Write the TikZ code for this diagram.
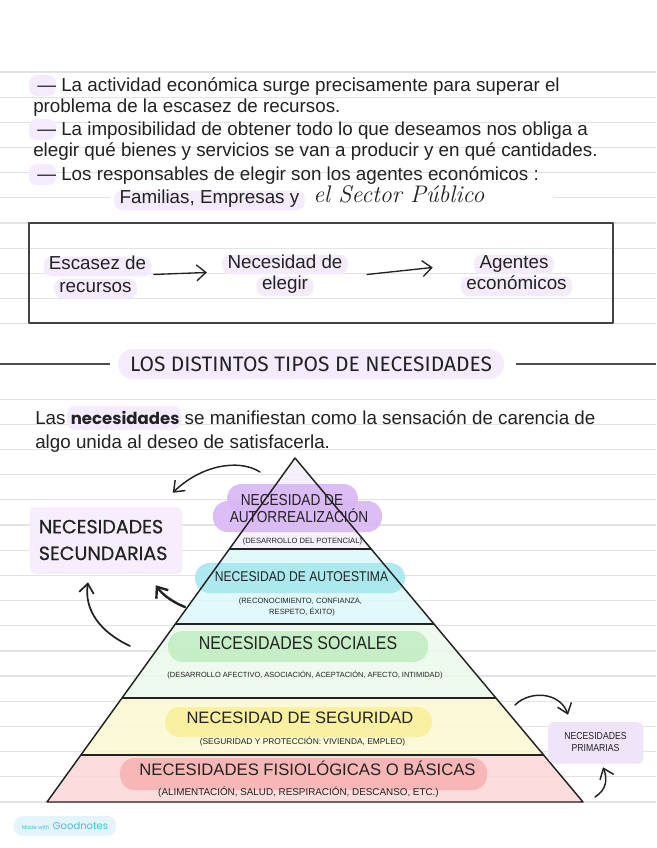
\documentclass[tikz,border=0pt]{standalone}
\usepackage{fontspec}
\usetikzlibrary{positioning,calc,arrows.meta,shadows}

\newfontfamily\bodyfont{Liberation Sans}
\newfontfamily\narrowfont[FakeStretch=0.86]{Liberation Sans}
\newfontfamily\headfont{Fira Sans}
\newfontfamily\geofont{Poppins}
\newfontfamily\geomed[FakeBold=0.7]{Poppins}

\definecolor{ruleg}{HTML}{E3E3E3}
\definecolor{hl}{HTML}{F4ECFC}
\definecolor{ink}{HTML}{222222}
\definecolor{lay1}{HTML}{F5EEFC}
\definecolor{tag1}{HTML}{D9B6F4}
\definecolor{lay2}{HTML}{DDF9FC}
\definecolor{tag2}{HTML}{A6E8EE}
\definecolor{lay3}{HTML}{ECFAEC}
\definecolor{tag3}{HTML}{C2EEC3}
\definecolor{lay4}{HTML}{FCF8D2}
\definecolor{tag4}{HTML}{FAF09C}
\definecolor{lay5}{HTML}{FCD7D7}
\definecolor{tag5}{HTML}{F7B3B3}
\definecolor{secfill}{HTML}{F7EEFD}
\definecolor{primfill}{HTML}{F0E4FB}
\definecolor{gnfill}{HTML}{E3F5FA}
\definecolor{gntext}{HTML}{45BFD8}

\begin{document}
\begin{tikzpicture}[
  x=0.75pt, y=-0.75pt,
  line join=round,
  rule/.style={ruleg, line width=0.9pt},
  body/.style={font=\bodyfont\fontsize{14.1}{17}\selectfont, text=ink, inner sep=0pt},
  hlbox/.style={body, fill=hl, rounded corners=6pt, inner xsep=4pt, inner ysep=2.5pt,
                text height=0.75em, text depth=0.22em},
  headtxt/.style={font=\headfont\fontsize{15.7}{18}\selectfont, text=ink, fill=hl,
                  rounded corners=11pt, minimum height=22.5pt, inner xsep=9pt},
  frame/.style={draw=ink!85, line width=1.1pt},
  edge/.style={draw=ink, line width=1.1pt},
  tagfill/.style={rounded corners=11pt, fill opacity=0.9},
  pyr/.style={font=\narrowfont, text=ink, inner sep=0pt, anchor=base},
  pyrn/.style={font=\bodyfont, text=ink, inner sep=0pt, anchor=base},
  small/.style={pyrn},
  catbox/.style={fill=secfill, rounded corners=4pt, text=ink,
                 drop shadow={shadow xshift=0.5pt, shadow yshift=-0.7pt, opacity=0.12}},
  flowarr/.style={-{Straight Barb[length=7pt,width=12pt]}, line width=1pt, ink, line cap=round},
  curvarr/.style={-{Straight Barb[length=7pt,width=11pt]}, line width=1.1pt, ink, line cap=round},
  gnbadge/.style={fill=gnfill, rounded corners=7pt, text=gntext, minimum height=15pt,
                  inner xsep=6pt, font=\geofont}
]
\useasboundingbox (0,0) rectangle (656,848);
\fill[white] (0,0) rectangle (656,848);

% ruled paper
\foreach \k in {0,...,4,6,7,8,9,10,13,14,...,29}
  \draw[rule] (0,{72+25.17*\k}) -- (656,{72+25.17*\k});
\draw[rule] (0,197.9) -- (110,197.9) (553,197.9) -- (656,197.9);

% ---------------- intro text ----------------
\foreach \yb in {92,136,181}
  \fill[hl, rounded corners=6pt] (29,{\yb-17}) rectangle (56,{\yb+4});
\node[body, anchor=base west] (l1) at (37,92) {— La actividad económica surge precisamente para superar el};
\node[body, anchor=base west] (l2) at (33,113) {problema de la escasez de recursos.};
\node[body, anchor=base west] (l3) at (37,136) {— La imposibilidad de obtener todo lo que deseamos nos obliga a};
\node[body, anchor=base west] (l4) at (33,157) {elegir qué bienes y servicios se van a producir y en qué cantidades.};
\node[body, anchor=base west] (l5) at (37,181) {— Los responsables de elegir son los agentes económicos :};
\node[hlbox, anchor=base west] (familias) at (114,204) {Familias, Empresas y};
\node[anchor=base west, inner sep=0pt, text=ink,
      font=\rmfamily\itshape\fontsize{18}{20}\selectfont\addfontfeature{LetterSpace=9}]
  (sector) at (313,203) {el Sector Público};

% ---------------- flow box ----------------
\draw[frame] (29,223) rectangle (613,323);
\node[hlbox, anchor=base] (esc1) at (97.5,270) {Escasez de};
\node[hlbox, anchor=base] (esc2) at (95.5,292) {recursos};
\node[hlbox, anchor=base] (nec1) at (285,268) {Necesidad de};
\node[hlbox, anchor=base] (nec2) at (285,290) {elegir};
\node[hlbox, anchor=base] (age1) at (514,268) {Agentes};
\node[hlbox, anchor=base] (age2) at (516.5,290) {económicos};
\draw[flowarr] ($(esc1.east)+(2,8)$) -- ($(nec1.west)+(-15,8)$);
\draw[flowarr] ($(nec1.east)+(19,10)$) -- ($(age2.west)+(-28,-19)$);

% ---------------- heading ----------------
\node[headtxt] (heading) at (311,364) {LOS DISTINTOS TIPOS DE NECESIDADES};
\coordinate (hleft) at (0,364);
\coordinate (hright) at (656,364);
\draw[ink!80, line width=1.1pt] (hleft) -- ([xshift=-6pt]heading.west);
\draw[ink!80, line width=1.1pt] ([xshift=9pt]heading.east) -- (hright);

\fill[hl, rounded corners=6pt] (67,406) rectangle (181,430);
\node[body, anchor=base west] (para1) at (35,424)
  {Las {\geofont\bfseries\fontsize{12.4}{17}\selectfont necesidades} se manifiestan como la sensación de carencia de};
\node[body, anchor=base west] (para2) at (35,448) {algo unida al deseo de satisfacerla.};

% ---------------- pyramid ----------------
\coordinate (apex) at (295,458);
\coordinate (bl) at (47,802);
\coordinate (br) at (583,802);
\foreach \t [count=\i] in {0.2645,0.4826,0.6977,0.8634} {
  \coordinate (L\i) at ($(apex)!\t!(bl)$);
  \coordinate (R\i) at ($(apex)!\t!(br)$);
}
\fill[lay1, fill opacity=0.85] (apex) -- (L1) -- (R1) -- cycle;
\fill[lay2, fill opacity=0.85] (L1) -- (L2) -- (R2) -- (R1) -- cycle;
\fill[lay3, fill opacity=0.85] (L2) -- (L3) -- (R3) -- (R2) -- cycle;
\fill[lay4, fill opacity=0.85] (L3) -- (L4) -- (R4) -- (R3) -- cycle;
\fill[lay5, fill opacity=0.85] (L4) -- (bl) -- (br) -- (R4) -- cycle;

\fill[tag1, tagfill] (227,484) rectangle (358,512);
\fill[tag1, tagfill] (213,501) rectangle (382,532);
\fill[tag2, tagfill] (195,563) rectangle (405,593);
\fill[tag3, tagfill] (168,631) rectangle (428,662);
\fill[tag4, tagfill] (165,707) rectangle (432,737);
\fill[tag5, tagfill] (120,758) rectangle (487,790);

\draw[edge] (apex) -- (bl) -- (br) -- cycle;
\foreach \i in {1,...,4}
  \draw[edge] (L\i) -- (R\i);

\node[pyr, font=\narrowfont\fontsize{11.9}{14}\selectfont] (autorr1) at (292,505) {NECESIDAD DE};
\node[pyr, font=\narrowfont\fontsize{11.9}{14}\selectfont] (autorr2) at (299,522) {AUTORREALIZACIÓN};
\node[small, font=\bodyfont\fontsize{5.7}{7}\selectfont] (autorr3) at (302.5,543) {(DESARROLLO DEL POTENCIAL)};

\node[pyr, font=\narrowfont\fontsize{10.6}{13}\selectfont] (estima1) at (301.5,581) {NECESIDAD DE AUTOESTIMA};
\node[small, font=\bodyfont\fontsize{5.7}{7}\selectfont] (estima2) at (300.5,603) {(RECONOCIMIENTO, CONFIANZA,};
\node[small, font=\bodyfont\fontsize{5.7}{7}\selectfont] (estima3) at (302,614) {RESPETO, ÉXITO)};

\node[pyr, font=\narrowfont\fontsize{13.9}{16}\selectfont] (social1) at (298,649) {NECESIDADES SOCIALES};
\node[small, font=\bodyfont\fontsize{5.6}{7}\selectfont] (social2) at (305,677)
  {(DESARROLLO AFECTIVO, ASOCIACIÓN, ACEPTACIÓN, AFECTO, INTIMIDAD)};

\node[pyrn, font=\bodyfont\fontsize{12.4}{15}\selectfont] (segur1) at (300,723) {NECESIDAD DE SEGURIDAD};
\node[small, font=\bodyfont\fontsize{6.3}{8}\selectfont] (segur2) at (302.5,744)
  {(SEGURIDAD Y PROTECCIÓN: VIVIENDA, EMPLEO)};

\node[pyrn, font=\bodyfont\fontsize{12.5}{15}\selectfont] (fisio1) at (307.5,775) {NECESIDADES FISIOLÓGICAS O BÁSICAS};
\node[small, font=\bodyfont\fontsize{7.4}{9}\selectfont] (fisio2) at (298.5,795)
  {(ALIMENTACIÓN, SALUD, RESPIRACIÓN, DESCANSO, ETC.)};

% ---------------- category boxes ----------------
\node[catbox, text width=100pt, align=left, inner xsep=7pt, minimum height=49.5pt,
      font=\geomed\fontsize{14.3}{20}\selectfont] (secund) at (105.5,540) {NECESIDADES\\SECUNDARIAS};
\node[catbox, fill=primfill, minimum width=71pt, minimum height=30.75pt, align=center,
      font=\narrowfont\fontsize{7.6}{9}\selectfont] (prim) at (595.5,742.5) {NECESIDADES\\PRIMARIAS};

% ---------------- curved arrows ----------------
\coordinate (top1) at (260,472);
\coordinate (mid1) at (185,607);
\coordinate (low1) at (130,646);
\coordinate (seg1) at (515,705);
\coordinate (base1) at (595,797);
\draw[curvarr] (top1) .. controls (238,458) and (200,466) .. ($(secund.north east)+(-9,-14)$);
\draw[curvarr, line width=1.8pt] (mid1) .. controls (172,602) and (162,594) .. ($(secund.south east)+(-26,12)$);
\draw[curvarr, line width=1.3pt] (low1) .. controls (100,632) and (84,610) .. ($(secund.south)+(-17.5,9)$);
\draw[curvarr] (seg1) .. controls (530,690) and (560,692) .. ($(prim.north)+(-27.5,-7)$);
\draw[curvarr] (base1) .. controls (606,790) and (608,780) .. ($(prim.south)+(7.5,4)$);

% ---------------- badge ----------------
\node[gnbadge] (badge) at (65,826)
  {{\fontsize{4}{5}\selectfont Made with}\ {\fontsize{7.5}{9}\selectfont Goodnotes}};
\end{tikzpicture}
\end{document}
